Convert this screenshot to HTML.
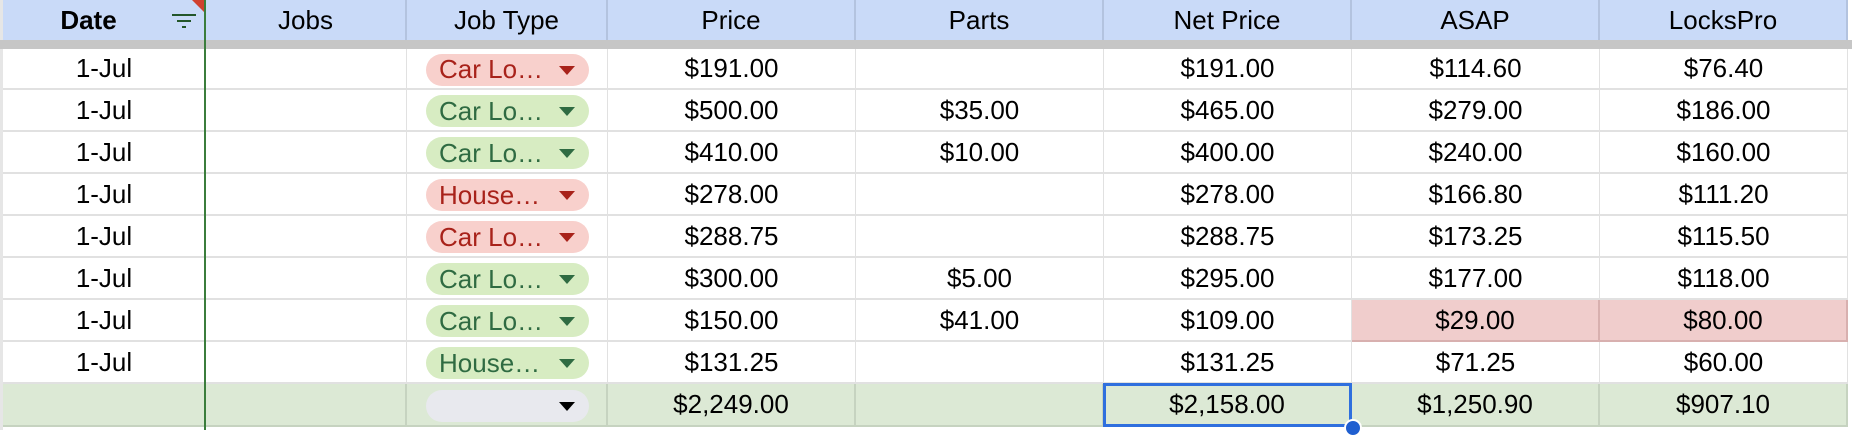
<!DOCTYPE html>
<html><head><meta charset="utf-8">
<style>
body{margin:0;width:1852px;height:430px;overflow:hidden;background:#fff;font-family:"Liberation Sans",Arial,sans-serif;font-size:26px;color:#000;position:relative}
.c{position:absolute;box-sizing:border-box;display:flex;align-items:center;justify-content:center;border-right:1px solid #e1e1e1;border-bottom:2px solid #e1e1e1}
.h{background:#c9daf8;border-right:2px solid #b3c3df;border-bottom:2px solid #b3c3df}
.t{background:#dce9d5;border-right:2px solid #c6d3c0;border-bottom:2px solid #c6d3c0}
.r{background:#f0cdcc;border-right:2px solid #d8b0af;border-bottom:2px solid #d8b0af}
.chip{position:absolute;height:32px;border-radius:16px;box-sizing:border-box;padding-left:13px;display:flex;align-items:center;font-size:26px}
.chip .a{position:absolute;right:14px;top:12px;width:0;height:0;border-left:8px solid transparent;border-right:8px solid transparent;border-top:9px solid currentColor}
</style></head><body>
<div id="grid"></div>
<script>
const headers=["Date","Jobs","Job Type","Price","Parts","Net Price","ASAP","LocksPro"];
const dates=["1-Jul","1-Jul","1-Jul","1-Jul","1-Jul","1-Jul","1-Jul","1-Jul"];
const jobTypes=["Car Lo…","Car Lo…","Car Lo…","House…","Car Lo…","Car Lo…","Car Lo…","House…"];
const chipColors=["red","green","green","red","red","green","green","green"];
const prices=["$191.00","$500.00","$410.00","$278.00","$288.75","$300.00","$150.00","$131.25"];
const parts=["","$35.00","$10.00","","","$5.00","$41.00",""];
const netPrices=["$191.00","$465.00","$400.00","$278.00","$288.75","$295.00","$109.00","$131.25"];
const asap=["$114.60","$279.00","$240.00","$166.80","$173.25","$177.00","$29.00","$71.25"];
const lockspro=["$76.40","$186.00","$160.00","$111.20","$115.50","$118.00","$80.00","$60.00"];
const totals=["","","","$2,249.00","","$2,158.00","$1,250.90","$907.10"];
const colX=[3,206,407,608,856,1104,1352,1600,1848];
const rowY=[49,90,132,174,216,258,300,342,384,427];
const g=document.getElementById('grid');
function cell(x,y,w,h,cls,txt,name){const d=document.createElement('div');d.className='c '+cls;d.style.left=x+'px';d.style.top=y+'px';d.style.width=w+'px';d.style.height=h+'px';d.textContent=txt;


g.appendChild(d);return d;}
const lg=document.createElement('div');lg.style.cssText='position:absolute;left:0;top:0;width:3px;height:430px;background:#e6e6e6';


g.appendChild(lg);
headers.forEach((h,i)=>{const d=cell(colX[i],0,colX[i+1]-colX[i],42,'h',h,'header-'+h.toLowerCase().replace(/ /g,'-'));if(i==0){d.style.fontWeight='bold';d.style.paddingRight='30px';}});
const band=document.createElement('div');band.style.cssText='position:absolute;left:0;top:40px;width:1852px;height:9px;background:#c6c6c6';


g.appendChild(band);
const cols=[dates,null,null,prices,parts,netPrices,asap,lockspro];
for(let r=0;r<8;r++){const y=rowY[r],h=rowY[r+1]-y;
 for(let i=0;i<8;i++){let txt=cols[i]?cols[i][r]:'';let cls='';if(r==6&&(i==6||i==7))cls='r';
  const d=cell(colX[i],y,colX[i+1]-colX[i],h,cls,txt,'cell-'+headers[i].toLowerCase().replace(/ /g,'-')+'-row'+(r+1));
  if(i==2){const ch=document.createElement('div');ch.className='chip';const red=chipColors[r]=='red';ch.style.background=red?'#f8d0cc':'#d7ecc2';ch.style.color=red?'#a8221a':'#2f6b42';ch.style.left='19px';ch.style.top=(h/2-16)+'px';ch.style.width='163px';ch.innerHTML=jobTypes[r]+'<span class="a"></span>';d.style.position='absolute';
   
   
   d.appendChild(ch);}
 }}
{const y=rowY[8],h=rowY[9]-y;for(let i=0;i<8;i++){const d=cell(colX[i],y,colX[i+1]-colX[i],h,'t',totals[i],'total-'+headers[i].toLowerCase().replace(/ /g,'-'));
 if(i==2){const ch=document.createElement('div');ch.className='chip';ch.style.background='#e8e9ee';ch.style.color='#000';ch.style.left='19px';ch.style.top=(h/2-16)+'px';ch.style.width='163px';ch.innerHTML='<span class="a"></span>';
  
  
  d.appendChild(ch);}
 if(i==5){const s=document.createElement('div');s.style.cssText='position:absolute;left:-1px;top:-1px;right:-2px;bottom:-2px;border:3px solid #2f6fde;box-sizing:border-box';
  
  
  d.appendChild(s);}
}}
</script>
<div style="position:absolute;left:204px;top:0;width:2px;height:430px;background:#3b7d3c"></div>
<div style="position:absolute;left:192px;top:0;width:0;height:0;border-left:12px solid transparent;border-top:12px solid #d0402f"></div>
<div style="position:absolute;left:172px;top:14px;width:25px;height:20px">
 <div style="position:absolute;left:0;top:0;width:24px;height:2px;background:#23562a"></div>
 <div style="position:absolute;left:5px;top:6px;width:14px;height:2px;background:#23562a"></div>
 <div style="position:absolute;left:10px;top:12px;width:4px;height:2px;background:#23562a"></div>
</div>
<div style="position:absolute;left:1344px;top:419px;width:14px;height:14px;border-radius:50%;background:#1f5fd0;border:2px solid #fff"></div>
</body></html>
